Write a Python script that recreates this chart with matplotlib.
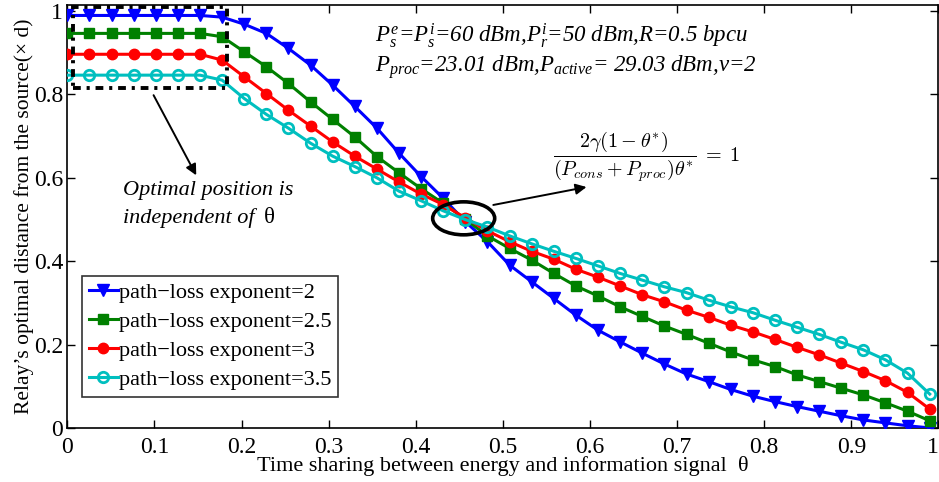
import matplotlib
matplotlib.use("Agg")
import matplotlib.pyplot as plt
from matplotlib.patches import Rectangle, Ellipse

plt.rcParams['font.family'] = ['Liberation Serif', 'DejaVu Serif']
plt.rcParams['mathtext.fontset'] = 'custom'
plt.rcParams['mathtext.rm'] = 'Liberation Serif'
plt.rcParams['mathtext.it'] = 'Liberation Serif:italic'
plt.rcParams['mathtext.bf'] = 'Liberation Serif:bold'
plt.rcParams['axes.unicode_minus'] = True

# ---------------- data ----------------
theta = [0.0, 0.0254, 0.0508, 0.0762, 0.1015, 0.1269, 0.1523, 0.1777,
         0.2031, 0.2285, 0.2538, 0.2792, 0.3046, 0.3300, 0.3554, 0.3808,
         0.4062, 0.4315, 0.4569, 0.4823, 0.5077, 0.5331, 0.5585, 0.5838,
         0.6092, 0.6346, 0.6600, 0.6854, 0.7108, 0.7362, 0.7615, 0.7869,
         0.8123, 0.8377, 0.8631, 0.8885, 0.9138, 0.9392, 0.9646, 0.9900]

d_pl2 = [0.989, 0.989, 0.989, 0.989, 0.989, 0.989, 0.989, 0.985,
         0.968, 0.946, 0.910, 0.870, 0.822, 0.771, 0.719, 0.659,
         0.603, 0.551, 0.495, 0.447, 0.391, 0.351, 0.311, 0.271,
         0.235, 0.207, 0.180, 0.154, 0.130, 0.112, 0.093, 0.077,
         0.064, 0.052, 0.041, 0.030, 0.020, 0.013, 0.006, 0.001]

d_pl25 = [0.946, 0.946, 0.946, 0.946, 0.946, 0.946, 0.946, 0.938,
          0.902, 0.866, 0.826, 0.782, 0.740, 0.698, 0.651, 0.612,
          0.574, 0.539, 0.501, 0.461, 0.431, 0.403, 0.371, 0.341,
          0.317, 0.291, 0.268, 0.245, 0.225, 0.204, 0.183, 0.164,
          0.148, 0.128, 0.112, 0.096, 0.080, 0.061, 0.041, 0.018]

d_pl3 = [0.896, 0.896, 0.896, 0.896, 0.896, 0.896, 0.896, 0.882,
         0.842, 0.802, 0.762, 0.724, 0.686, 0.652, 0.621, 0.590,
         0.561, 0.536, 0.504, 0.473, 0.447, 0.424, 0.405, 0.381,
         0.362, 0.341, 0.320, 0.303, 0.283, 0.266, 0.247, 0.231,
         0.213, 0.194, 0.176, 0.156, 0.136, 0.114, 0.086, 0.046]

d_pl35 = [0.846, 0.846, 0.846, 0.846, 0.846, 0.846, 0.846, 0.834,
          0.790, 0.752, 0.719, 0.683, 0.652, 0.627, 0.600, 0.568,
          0.545, 0.521, 0.500, 0.482, 0.461, 0.442, 0.424, 0.407,
          0.389, 0.371, 0.355, 0.339, 0.325, 0.307, 0.291, 0.277,
          0.259, 0.242, 0.225, 0.206, 0.188, 0.164, 0.132, 0.082]

labels = ['path\u2212loss exponent=2', 'path\u2212loss exponent=2.5',
          'path\u2212loss exponent=3', 'path\u2212loss exponent=3.5']

xticks = [0, 0.1, 0.2, 0.3, 0.4, 0.5, 0.6, 0.7, 0.8, 0.9, 1]
xticklabels = ['0', '0.1', '0.2', '0.3', '0.4', '0.5', '0.6', '0.7', '0.8', '0.9', '1']
yticks = [0, 0.2, 0.4, 0.6, 0.8, 1]
yticklabels = ['0', '0.2', '0.4', '0.6', '0.8', '1']

# ---------------- figure ----------------
fig = plt.figure(figsize=(9.39, 4.82), dpi=100)
ax = fig.add_axes([0.0717, 0.1114, 0.9277, 0.8782])

ax.plot(theta, d_pl2, '-', color='#0000ff', lw=2.2, marker='v', ms=9,
        mfc='#0000ff', mec='#0000ff', label=labels[0], zorder=3)
ax.plot(theta, d_pl25, '-', color='#008000', lw=2.2, marker='s', ms=6.5,
        mfc='#008000', mec='#008000', label=labels[1], zorder=3)
ax.plot(theta, d_pl3, '-', color='#ff0000', lw=2.2, marker='o', ms=7.5,
        mfc='#ff0000', mec='#ff0000', label=labels[2], zorder=3)
ax.plot(theta, d_pl35, '-', color='#00bfbf', lw=2.2, marker='o', ms=7.5,
        mfc='none', mec='#00bfbf', mew=2.0, label=labels[3], zorder=3)

ax.set_xlim(0, 1)
ax.set_ylim(0, 1.014)
ax.set_xticks(xticks)
ax.set_xticklabels(xticklabels)
ax.set_yticks(yticks)
ax.set_yticklabels(yticklabels)
ax.tick_params(direction='in', length=6, width=1, labelsize=17,
               top=True, right=True)
ax.tick_params(axis='x', pad=6)
ax.tick_params(axis='y', pad=3)
ax.get_xticklabels()[-1].set_horizontalalignment('right')
for s in ax.spines.values():
    s.set_linewidth(1.2)

ax.set_xlabel('Time sharing between energy and information signal  \u03b8',
              fontsize=16, labelpad=-1.5)
ax.set_ylabel('Relay\u2019s optimal distance from the source(\u00d7 d)',
              fontsize=15.5, labelpad=0)

leg = ax.legend(loc='upper left', bbox_to_anchor=(0.0169, 0.360), fontsize=16,
                frameon=True, fancybox=False, edgecolor='black',
                borderpad=0.3, labelspacing=0.38, handlelength=1.3,
                handletextpad=0.05, borderaxespad=0.0)
leg.get_frame().set_linewidth(1.2)

# dash-dot box around the flat region
rect = Rectangle((0.006, 0.816), 0.177, 0.194, fill=False, edgecolor='black',
                 lw=2.8, linestyle=(0, (2.0, 1.5, 0.8, 1.5)), zorder=4)
ax.add_patch(rect)

ax.annotate('', xy=(0.148, 0.606), xytext=(0.099, 0.798),
            arrowprops=dict(arrowstyle='-|>', color='black', lw=1.4,
                            mutation_scale=16, shrinkA=0, shrinkB=0))
ax.text(0.064, 0.558, 'Optimal position is', fontsize=16, style='italic',
        ha='left', va='baseline')
ax.text(0.064, 0.491, 'independent of', fontsize=16, style='italic',
        ha='left', va='baseline')
ax.text(0.226, 0.491, '\u03b8', fontsize=16.5, ha='left', va='baseline')

# ellipse around intersection
ax.add_patch(Ellipse((0.455, 0.503), 0.0712, 0.079, fill=False,
                     edgecolor='black', lw=2.6, zorder=5))
ax.annotate('', xy=(0.596, 0.578), xytext=(0.489, 0.535),
            arrowprops=dict(arrowstyle='-|>', color='black', lw=1.4,
                            mutation_scale=16, shrinkA=0, shrinkB=0))
ax.text(0.557, 0.650,
        r'$\dfrac{2\gamma(1-\theta^{*})}{(P_{cons}+P_{proc})\theta^{*}}\;=\;1$',
        fontsize=14.5, math_fontfamily='cm', ha='left', va='center')

# parameter text
ax.text(0.353, 0.926,
        r'$P^{e}_{s}$=$P^{i}_{s}$=60 dBm,$P^{i}_{r}$=50 dBm,R=0.5 bpcu',
        fontsize=16.5, style='italic', math_fontfamily='custom',
        ha='left', va='baseline')
ax.text(0.353, 0.855,
        r'$P_{proc}$=23.01 dBm,$P_{active}$= 29.03 dBm,' + '\u03bd=2',
        fontsize=16.5, style='italic', math_fontfamily='custom',
        ha='left', va='baseline')

fig.savefig('out.png', dpi=100)
